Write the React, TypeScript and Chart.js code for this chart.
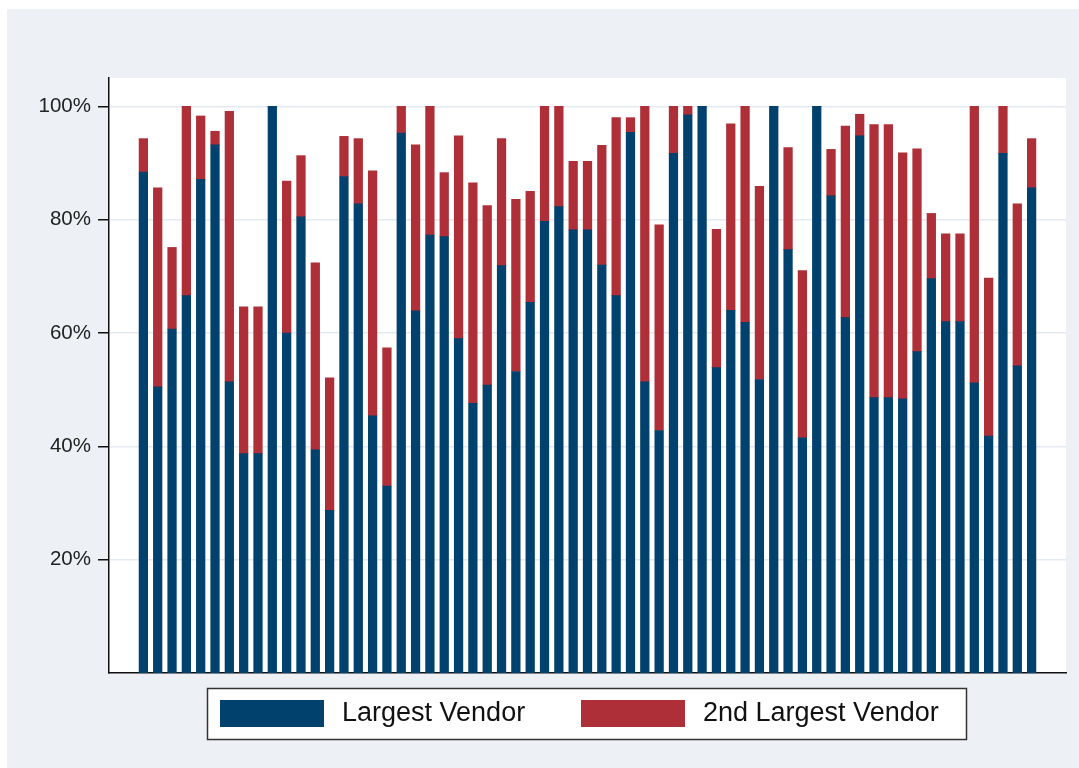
import React, { useEffect, useRef } from "react";
import { Chart, registerables } from "chart.js";

Chart.register(...registerables);

const categories = [
  "1", "2", "3", "4", "5", "6", "7", "8", "9", "10",
  "11", "12", "13", "14", "15", "16", "17", "18", "19", "20",
  "21", "22", "23", "24", "25", "26", "27", "28", "29", "30",
  "31", "32", "33", "34", "35", "36", "37", "38", "39", "40",
  "41", "42", "43", "44", "45", "46", "47", "48", "49", "50",
  "51", "52", "53", "54", "55", "56", "57", "58", "59", "60",
  "61", "62", "63",
];

const largestVendor = [
  88.4, 50.5, 60.7, 66.6, 87.1, 93.2, 51.4, 38.7, 38.7, 100,
  60.0, 80.5, 39.4, 28.7, 87.6, 82.8, 45.4, 33.0, 95.3, 63.9,
  77.3, 77.0, 59.0, 47.6, 50.8, 71.9, 53.2, 65.4, 79.7, 82.3,
  78.2, 78.2, 72.0, 66.6, 95.4, 51.4, 42.8, 91.7, 98.5, 100,
  53.9, 64.0, 61.9, 51.8, 100, 74.7, 41.5, 100, 84.2, 62.7,
  94.8, 48.6, 48.6, 48.4, 56.7, 69.6, 62.0, 62.0, 51.2, 41.8,
  91.7, 54.2, 85.6,
];

const secondLargestVendor = [
  5.9, 35.1, 14.4, 33.4, 11.2, 2.4, 47.7, 25.9, 25.9, 0,
  26.8, 10.8, 33.0, 23.4, 7.1, 11.5, 43.2, 24.4, 4.7, 29.3,
  22.7, 11.3, 35.8, 38.9, 31.7, 22.4, 30.4, 19.6, 20.3, 17.7,
  12.1, 12.1, 21.1, 31.4, 2.6, 48.6, 36.3, 8.3, 1.5, 0,
  24.4, 32.9, 38.1, 34.1, 0, 18.0, 29.5, 0, 8.2, 33.8,
  3.8, 48.2, 48.2, 43.4, 35.8, 11.5, 15.5, 15.5, 48.8, 27.9,
  8.3, 28.6, 8.7,
];

const yTicks = [20, 40, 60, 80, 100];
const seriesLabels = ["Largest Vendor", "2nd Largest Vendor"];

const BLUE = "#00416d";
const RED = "#ae2f37";
const FONT = '"Liberation Sans", Arial, Helvetica, sans-serif';

export default function App() {
  const ref = useRef<HTMLCanvasElement | null>(null);

  useEffect(() => {
    document.body.style.margin = "0";
    const canvas = ref.current;
    if (!canvas) return;

    const bgPlugin = {
      id: "bgPlugin",
      beforeDraw(chart: any) {
        const { ctx, width, height, chartArea: a } = chart;
        ctx.save();
        ctx.fillStyle = "#ffffff";
        ctx.fillRect(0, 0, width, height);
        ctx.fillStyle = "#edf1f6";
        ctx.fillRect(7, 9, width - 7, height - 9);
        ctx.fillStyle = "#ffffff";
        ctx.fillRect(a.left, a.top, a.right - a.left, a.bottom - a.top);
        ctx.restore();
      },
    };

    const legendPlugin = {
      id: "boxLegend",
      afterDraw(chart: any) {
        const ctx = chart.ctx;
        ctx.save();
        ctx.fillStyle = "#ffffff";
        ctx.fillRect(207.5, 688.5, 759, 51);
        ctx.strokeStyle = "#333333";
        ctx.lineWidth = 1.5;
        ctx.strokeRect(207.5, 688.5, 759, 51);
        const xs = [220, 581];
        chart.data.datasets.forEach((ds: any, i: number) => {
          ctx.fillStyle = ds.backgroundColor;
          ctx.fillRect(xs[i], 700, 104, 27);
          ctx.fillStyle = "#111111";
          ctx.font = `27px ${FONT}`;
          ctx.textBaseline = "middle";
          ctx.textAlign = "left";
          ctx.fillText(ds.label, xs[i] + 104 + 18, 714);
        });
        ctx.restore();
      },
    };

    const chart = new Chart(canvas, {
      type: "bar",
      data: {
        datasets: [
          {
            label: seriesLabels[0],
            data: categories.map((_, i) => ({ x: i, y: largestVendor[i] })),
            backgroundColor: BLUE,
            borderWidth: 0,
            barThickness: 8.6,
          },
          {
            label: seriesLabels[1],
            data: categories.map((_, i) => ({ x: i, y: secondLargestVendor[i] })),
            backgroundColor: RED,
            borderWidth: 0,
            barThickness: 8.6,
          },
        ],
      },
      options: {
        responsive: false,
        animation: false,
        layout: { padding: { left: 0, top: 78, right: 13, bottom: 95 } },
        plugins: {
          legend: { display: false },
          tooltip: { enabled: false },
        },
        scales: {
          x: {
            type: "linear",
            offset: false,
            min: -2.4,
            max: 64.4,
            stacked: true,
            ticks: { display: false },
            grid: { display: false },
            border: { display: true, color: "#111111", width: 1.5 },
            afterFit: (s: any) => {
              s.height = 0;
            },
          },
          y: {
            type: "linear",
            min: 0,
            max: 105,
            stacked: true,
            afterBuildTicks: (s: any) => {
              s.ticks = yTicks.map((v) => ({ value: v }));
            },
            ticks: {
              callback: (v: any) => `${v}%`,
              font: { family: FONT, size: 20.5 },
              color: "#222222",
              padding: 7,
            },
            grid: {
              color: "#e4eaf1",
              lineWidth: 1.5,
              tickColor: "#111111",
              tickLength: 11,
              tickWidth: 1.5,
            },
            border: { display: true, color: "#111111", width: 1.5 },
            afterFit: (s: any) => {
              s.width = 109;
            },
          },
        },
      },
      plugins: [bgPlugin, legendPlugin],
    } as any);

    return () => chart.destroy();
  }, []);

  return (
    <canvas
      ref={ref}
      width={1079}
      height={768}
      style={{ display: "block", width: 1079, height: 768 }}
    />
  );
}
